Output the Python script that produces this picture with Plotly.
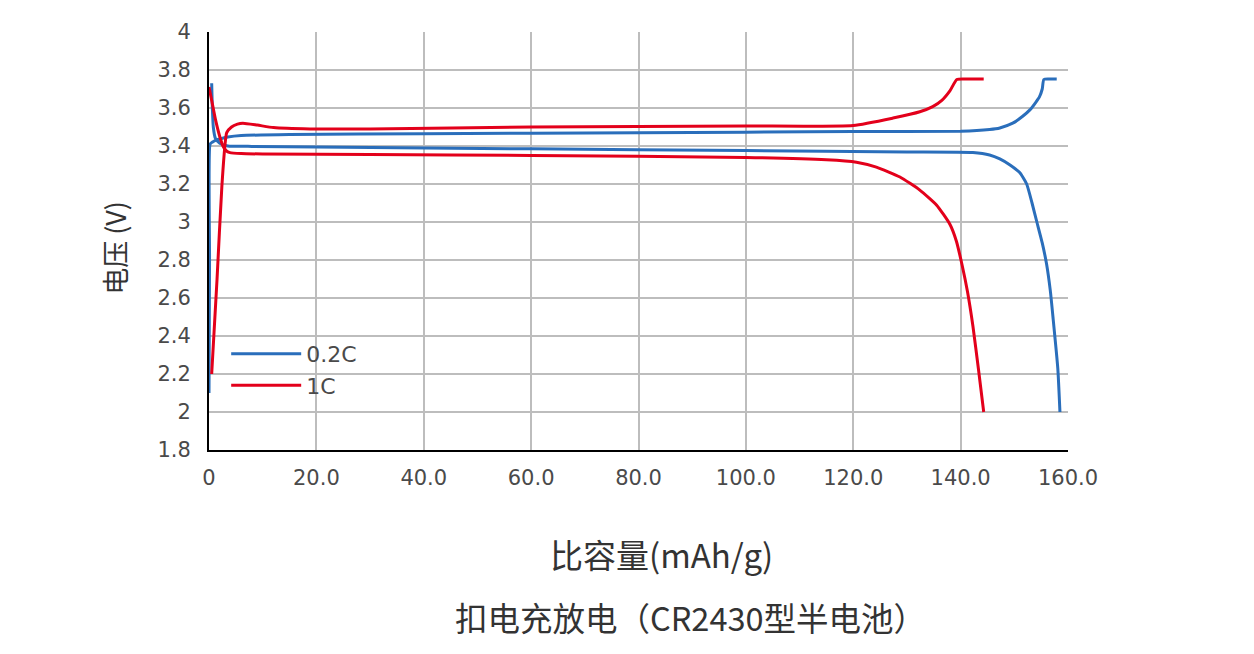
import plotly.graph_objects as go

# ---- data ----
blue_charge_x = [0, 0.1, 0.2, 0.6, 1.2, 2.0, 3.5, 6, 15, 40, 80, 120, 140, 145.4, 147.3, 149.7, 151.5, 152.9, 154.0, 154.7, 155.2, 155.5, 156.5, 157.9]
blue_charge_y = [2.10, 2.80, 3.41, 3.42, 3.43, 3.437, 3.447, 3.455, 3.46, 3.465, 3.47, 3.476, 3.478, 3.487, 3.495, 3.52, 3.555, 3.59, 3.63, 3.66, 3.70, 3.75, 3.752, 3.752]

blue_dis_x = [0.5, 0.6, 0.8, 1.2, 2.0, 3.5, 8, 20, 60, 100, 130, 142.3, 145.4, 147.3, 149.2, 151.0, 152.3, 153.3, 154.2, 155.2, 156.0, 156.7, 157.2, 158.1, 158.5]
blue_dis_y = [3.73, 3.62, 3.50, 3.44, 3.415, 3.40, 3.398, 3.395, 3.385, 3.376, 3.369, 3.366, 3.353, 3.332, 3.30, 3.26, 3.20, 3.10, 3.00, 2.89, 2.78, 2.64, 2.50, 2.23, 2.00]

red_charge_x = [0.5, 1.5, 2.4, 3.3, 4.2, 5.3, 6.3, 9, 12, 18.8, 30, 60, 100, 120, 127.4, 132.4, 134.8, 136.5, 138, 139.3, 141.5, 144.3]
red_charge_y = [2.20, 2.70, 3.19, 3.47, 3.50, 3.515, 3.52, 3.51, 3.497, 3.49, 3.49, 3.50, 3.505, 3.508, 3.547, 3.58, 3.607, 3.64, 3.69, 3.75, 3.752, 3.752]

red_dis_x = [0, 0.5, 1.2, 2.0, 2.6, 3.2, 3.9, 6, 10, 30, 60, 100, 115, 120.6, 124.3, 128.7, 132.4, 135.5, 138.0, 139.2, 140.3, 141.3, 142.3, 143.3, 144.3]
red_dis_y = [3.71, 3.64, 3.54, 3.45, 3.40, 3.375, 3.365, 3.36, 3.358, 3.355, 3.35, 3.34, 3.328, 3.315, 3.289, 3.237, 3.168, 3.09, 2.988, 2.90, 2.77, 2.63, 2.45, 2.23, 2.00]

series_names = ["0.2C", "1C"]
x_tick_vals = [0, 20, 40, 60, 80, 100, 120, 140, 160]
x_tick_text = ["0", "20.0", "40.0", "60.0", "80.0", "100.0", "120.0", "140.0", "160.0"]
y_tick_vals = [1.8, 2.0, 2.2, 2.4, 2.6, 2.8, 3.0, 3.2, 3.4, 3.6, 3.8, 4.0]
y_tick_text = ["1.8", "2", "2.2", "2.4", "2.6", "2.8", "3", "3.2", "3.4", "3.6", "3.8", "4"]

BLUE = "#2a6ebb"
RED = "#e3001b"
LINE_B = dict(color=BLUE, width=3, shape="spline", smoothing=0.5)
LINE_R = dict(color=RED, width=3, shape="spline", smoothing=0.5)

fig = go.Figure()
fig.add_trace(go.Scatter(x=blue_charge_x, y=blue_charge_y, mode="lines", name=series_names[0],
                         legendgroup="b", line=LINE_B))
fig.add_trace(go.Scatter(x=blue_dis_x, y=blue_dis_y, mode="lines", name=series_names[0],
                         legendgroup="b", showlegend=False, line=LINE_B))
fig.add_trace(go.Scatter(x=red_charge_x, y=red_charge_y, mode="lines", name=series_names[1],
                         legendgroup="r", line=LINE_R))
fig.add_trace(go.Scatter(x=red_dis_x, y=red_dis_y, mode="lines", name=series_names[1],
                         legendgroup="r", showlegend=False, line=LINE_R))

tick_font = dict(family="DejaVu Sans", size=21, color="#4a4a4a")

# page body has an 8px margin, so the figure is shrunk by 8px and margins adjusted
fig.update_layout(
    width=1246, height=646,
    margin=dict(l=201, r=186, t=16, b=204),
    paper_bgcolor="white", plot_bgcolor="white",
    showlegend=True,
    legend=dict(x=0.02, y=0.28, xanchor="left", yanchor="top",
                font=dict(family="DejaVu Sans", size=22, color="#4a4a4a"),
                bgcolor="rgba(0,0,0,0)", tracegroupgap=0, itemwidth=70),
    xaxis=dict(range=[0, 160], tickvals=x_tick_vals, ticktext=x_tick_text,
               showgrid=True, gridcolor="#bdbdbd", gridwidth=2,
               showline=True, linecolor="black", linewidth=2,
               ticks="", tickfont=tick_font, zeroline=False, ticklabelstandoff=8),
    yaxis=dict(range=[1.8, 4.0], tickvals=y_tick_vals, ticktext=y_tick_text,
               showgrid=True, gridcolor="#bdbdbd", gridwidth=2,
               showline=True, linecolor="black", linewidth=2,
               ticks="", tickfont=tick_font, zeroline=False, ticklabelstandoff=12),
    annotations=[
        dict(text="比容量(mAh/g)", xref="paper", yref="paper", x=(661 - 209) / 859, y=-(556 - 450) / 426,
             showarrow=False, font=dict(family="Noto Sans CJK SC", size=33, color="#333333"),
             xanchor="center", yanchor="middle"),
        dict(text="扣电充放电（CR2430型半电池）", xref="paper", yref="paper", x=(690 - 209) / 859,
             y=-(620 - 450) / 426, showarrow=False,
             font=dict(family="Noto Sans CJK SC", size=32.5, color="#333333"),
             xanchor="center", yanchor="middle"),
        dict(text="电压 (V)", xref="paper", yref="paper", x=-(209 - 115) / 859, y=(450 - 244) / 426,
             showarrow=False, textangle=-90,
             font=dict(family="Noto Sans CJK SC", size=27, color="#333333"),
             xanchor="center", yanchor="middle"),
    ],
)

fig.write_html("out.html")
